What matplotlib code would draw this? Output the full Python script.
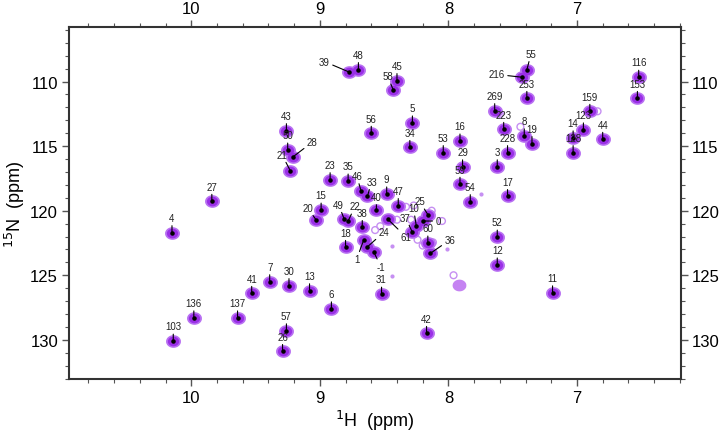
import numpy as np
import matplotlib
matplotlib.use("Agg")
import matplotlib.pyplot as plt
from matplotlib.ticker import MultipleLocator
from matplotlib.path import Path

plt.rcParams['font.family'] = ['Liberation Sans', 'DejaVu Sans']

# assigned peaks: label, 1H shift, 15N shift
labels = ['39', '48', '45', '58', '5', '56', '43', '50', '28', '21', '34', '16', '53', '29',
          '59', '54', '23', '35', '46', '33', '9', '47', '25', '269', '3', '55', '216', '253',
          '223', '8', '19', '228', '17', '159', '123', '14', '128', '44', '116', '153',
          '4', '7', '41', '136', '137', '103', '27', '15', '20', '49', '22', '38', '40', '61',
          '10', '37', '0', '60', '36', '18', '24', '1', '-1', '12', '30', '13', '6', '31',
          '57', '26', '42', '52', '11']
h_ppm = [8.77, 8.70, 8.40, 8.43, 8.28, 8.60, 9.26, 9.25, 9.21, 9.23, 8.30, 7.91, 8.04, 7.89,
         7.91, 7.83, 8.92, 8.78, 8.68, 8.63, 8.48, 8.39, 8.16, 7.64, 7.62, 7.39, 7.43, 7.39,
         7.57, 7.41, 7.35, 7.54, 7.54, 6.90, 6.95, 7.03, 7.03, 6.80, 6.52, 6.53,
         10.15, 9.39, 9.53, 9.98, 9.64, 10.14, 9.84, 8.99, 9.03, 8.81, 8.78, 8.67, 8.56, 8.47,
         8.25, 8.28, 8.20, 8.16, 8.14, 8.80, 8.63, 8.66, 8.58, 7.62, 9.24, 9.08, 8.91, 8.52,
         9.26, 9.29, 8.17, 7.62, 7.19]
n_ppm = [109.27, 109.07, 109.92, 110.62, 113.2, 114.0, 113.8, 115.3, 115.84, 116.9, 115.1, 114.6, 115.5, 116.6,
         117.95, 119.3, 117.6, 117.7, 118.45, 118.9, 118.7, 119.6, 120.3, 112.25, 116.6, 109.1, 109.66, 111.3,
         113.7, 114.2, 114.8, 115.5, 118.9, 112.3, 113.74, 114.36, 115.5, 114.47, 109.66, 111.3,
         121.7, 125.5, 126.4, 128.3, 128.3, 130.1, 119.27, 119.95, 120.7, 120.67, 120.8, 121.3, 119.97, 120.67,
         121.16, 121.67, 120.8, 122.5, 123.3, 122.84, 122.8, 122.3, 123.2, 124.2, 125.8, 126.2, 127.6, 126.46,
         129.3, 130.9, 129.5, 122.04, 126.36]

# weak / unassigned contours
weak_h = [6.84, 7.60, 8.13, 8.40, 8.57, 8.53, 8.29, 8.24, 8.20, 8.12, 8.33, 8.27, 7.44, 7.96, 8.05]
weak_n = [112.3, 112.5, 120.0, 120.7, 121.5, 121.2, 120.7, 122.25, 122.7, 122.45, 119.7, 119.6, 113.5, 125.0, 120.8]
dot_h = [8.44, 8.44, 8.01, 7.75]
dot_n = [122.7, 125.06, 123.0, 118.7]
blob_h = [7.92]
blob_n = [125.76]

# label offsets (points) for labels not placed straight above
offsets = {'39': (-14, 4), '28': (10, 7), '21': (-6, 8), '61': (9, -9), '1': (-5, -10),
           '-1': (5, -7), '24': (8, 7), '36': (10, 6), '0': (9, 0), '216': (-12, 2),
           '55': (3, 8), '20': (-6, 5), '49': (-4, 7), '22': (5, 7), '10': (-2, 9),
           '37': (-5, 7), '25': (-6, 6), '58': (-4, 6), '46': (-3, 7), '33': (3, 7),
           '40': (0, 6)}

fig = plt.figure(figsize=(7.2, 4.35), dpi=100)
ax = fig.add_axes([0.096, 0.126, 0.850, 0.810])

t = np.linspace(0, 2 * np.pi, 40)
ell = Path(np.column_stack([1.2 * np.cos(t), np.sin(t)]))

ax.scatter(weak_h, weak_n, s=24, facecolors='none', edgecolors='#c68ff2', linewidths=1.0, zorder=2)
ax.scatter(dot_h, dot_n, s=4, color='#c68ff2', zorder=2)
ax.scatter(blob_h, blob_n, s=80, marker=ell, color='#c583f2', zorder=2)
ax.scatter(h_ppm, n_ppm, s=95, marker=ell, color='#b870f2', zorder=3)
ax.scatter(h_ppm, n_ppm, s=50, marker=ell, color='#9a2fe6', zorder=4)
ax.scatter(h_ppm, n_ppm, s=5, color='black', zorder=5)

for lab, h, n in zip(labels, h_ppm, n_ppm):
    dx, dy = offsets.get(lab, (0, 7))
    ha = 'center'
    va = 'bottom' if dy > 2 else ('top' if dy < -2 else 'center')
    if dx > 6:
        ha = 'left'
    elif dx < -6:
        ha = 'right'
    ax.annotate(lab, (h, n), xytext=(dx, dy), textcoords='offset points',
                ha=ha, va=va, fontsize=7, color='#222222', zorder=6,
                arrowprops=dict(arrowstyle='-', lw=0.8, color='black', shrinkA=0, shrinkB=0))

ax.set_xlim(10.95, 6.19)
ax.set_ylim(133.05, 105.76)
ax.xaxis.set_major_locator(MultipleLocator(1))
ax.xaxis.set_minor_locator(MultipleLocator(0.2))
ax.yaxis.set_major_locator(MultipleLocator(5))
ax.yaxis.set_minor_locator(MultipleLocator(1))
ax.tick_params(which='both', direction='out', top=True, right=True,
               labeltop=True, labelright=True, color='#555555', labelsize=12)
ax.tick_params(which='major', length=5, width=1.0, pad=3)
ax.tick_params(which='minor', length=3, width=0.8)
for s in ax.spines.values():
    s.set_linewidth(1.5)
    s.set_color('#333333')

ax.set_xlabel('$^{1}$H  (ppm)', fontsize=13, labelpad=2)
ax.set_ylabel('$^{15}$N  (ppm)', fontsize=13, labelpad=2)

fig.savefig('out.png', dpi=100)
